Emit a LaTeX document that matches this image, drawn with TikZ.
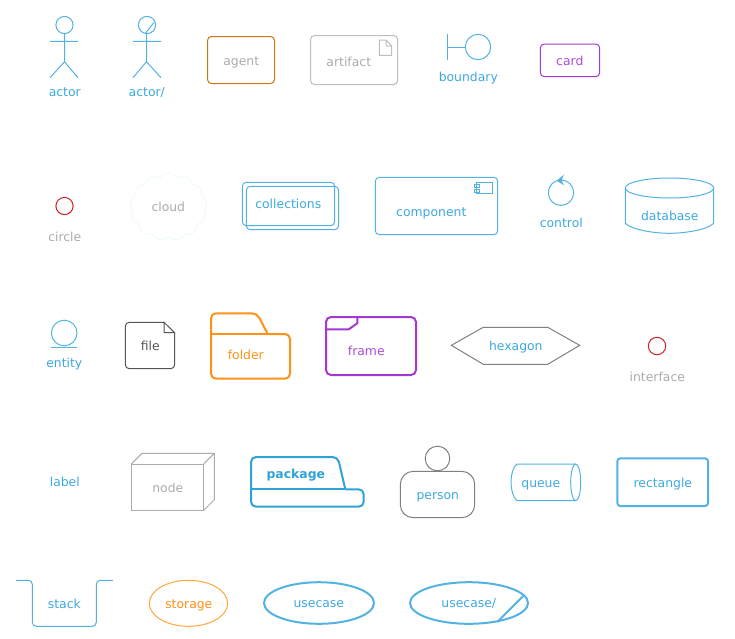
\documentclass[tikz,border=0pt]{standalone}
\usepackage{fontspec}
\setmainfont{DejaVu Sans}
\usetikzlibrary{shapes.symbols}
\definecolor{blu}{HTML}{52B2E2}
\definecolor{blutx}{HTML}{3CA9DE}
\definecolor{pkg}{HTML}{2FA2D8}
\definecolor{gry}{HTML}{ABABAB}
\definecolor{lgry}{HTML}{BEBEBE}
\definecolor{mgry}{HTML}{808080}
\definecolor{dgry}{HTML}{555555}
\definecolor{org}{HTML}{FF9018}
\definecolor{ora}{HTML}{FFA53C}
\definecolor{brn}{HTML}{CC7711}
\definecolor{pur}{HTML}{A338D2}
\definecolor{rd}{HTML}{D02020}
\definecolor{pale}{HTML}{F1FAFB}
\tikzset{
  lab/.style={inner sep=0pt,font=\fontsize{12.4}{15}\selectfont,text height=9.8pt,text depth=2.8pt,yshift=-0.8pt,xshift=0.3pt},
  tblue/.style={lab,text=blutx},
  tgray/.style={lab,text=gry},
  tpurple/.style={lab,text=pur!90!white},
  torange/.style={lab,text=org},
  tdark/.style={lab,text=dgry},
  thin line/.style={line width=1pt},
  blue line/.style={thin line,draw=blu},
  red line/.style={thin line,draw=rd},
  thick blue/.style={line width=2pt,draw=blu},
  rc/.style={rounded corners=4pt},
  rcb/.style={rounded corners=5pt}
}
\begin{document}
\begin{tikzpicture}[x=1pt,y=-1pt]
\path[use as bounding box] (0,0) rectangle (735,638);
% row 1
\draw[blue line] (64.5,25) circle (8.6);
\draw[blue line] (50,41.3) -- (78,41.3) (64.5,33.6) -- (64.5,61.7) (50,77.7) -- (64.5,61.7) -- (78,77.7);
\node[tblue] (actor) at (64.5,92.5) {actor};
\draw[blue line] (147,25) circle (8.6);
\draw[blue line] (133,41.3) -- (161,41.3) (146.5,33.6) -- (146.5,61.7) (133,77.7) -- (146.5,61.7) -- (161,77.7) (145.5,33.2) -- (154,22.5);
\node[tblue] (actorb) at (146.5,92.5) {actor/};
\draw[thin line,draw=brn,rc] (207.5,36.5) rectangle (274.5,83.5);
\node[tgray] (agent) at (241,61) {agent};
\draw[thin line,draw=lgry,rc] (310.5,35.5) rectangle (397.7,84.5);
\draw[thin line,draw=lgry] (379.3,40) -- (379.3,55.3) -- (391.7,55.3) -- (391.7,46) -- (386,40) -- cycle (386,40) -- (386,46) -- (391.7,46);
\node[tgray] (artifact) at (348.5,62.5) {artifact};
\draw[blue line] (478,47) circle (12.7);
\draw[blue line] (447.3,34) -- (447.3,60) (447.3,47.3) -- (465.3,47.3);
\node[tblue] (boundary) at (468,77.5) {boundary};
\draw[thin line,draw=pur,rc] (540.3,44) rectangle (599.7,76.7);
\node[tpurple] (card) at (569.5,61) {card};
% row 2
\draw[red line] (64.5,206) circle (8.6);
\node[tgray] (circlelab) at (64.5,237.5) {circle};
\node[cloud,cloud puffs=13,cloud puff arc=110,aspect=1.1,draw=pale,thin line,inner sep=0pt,minimum width=77pt,minimum height=67pt] (cloudshape) at (168.5,207) {};
\node[tgray] (cloud) at (168,207) {cloud};
\draw[blue line,rc] (246.3,186.3) rectangle (338.7,229.7);
\draw[blue line,rc] (242.3,182.3) rectangle (334.7,225.7);
\node[tblue] (collections) at (288,204.5) {collections};
\draw[blue line,rc] (375.3,177.3) rectangle (497.7,234.7);
\draw[blue line] (476,182.3) rectangle (492.7,193.7) (474.3,184) rectangle (479,187) (474.3,189) rectangle (479,192);
\node[tblue] (component) at (431,212) {component};
\draw[blue line] (561,192.7) circle (12.7);
\fill[blu] (564,174.7) -- (556.7,180.7) -- (564,185.3) -- (561.5,180.5) -- cycle;
\node[tblue] (control) at (561,223.5) {control};
\draw[blue line] (669.5,188) ellipse (44.2 and 10);
\draw[blue line] (625.3,188) -- (625.3,223.3) .. controls (632,230) and (655,233.3) .. (669.5,233.3) .. controls (684,233.3) and (707,230) .. (713.7,223.3) -- (713.7,188);
\node[tblue] (database) at (669.5,216.5) {database};
% row 3
\draw[blue line] (64.2,333) circle (12.8);
\draw[blue line] (51,347.3) -- (77,347.3);
\node[tblue] (entity) at (64,363.5) {entity};
\draw[thin line,draw=dgry,rc] (164,322.3) -- (125.3,322.3) -- (125.3,368.7) -- (174.7,368.7) -- (174.7,332.7);
\draw[thin line,draw=dgry] (174.7,334) -- (174.7,332.7) -- (164,322.3) -- (164,332.7) -- (174.7,332.7);
\node[tdark] (file) at (150,346) {file};
\draw[line width=2pt,draw=org,rcb] (267.7,334) -- (290,334) -- (290,378.7) -- (211,378.7) -- (211,313.3) -- (257,313.3) -- (267.7,334);
\draw[line width=2pt,draw=org] (211,334) -- (267.7,334);
\node[torange] (folder) at (245.5,355.5) {folder};
\draw[line width=2pt,draw=pur,rcb] (326,317) rectangle (416,375);
\draw[line width=2pt,draw=pur] (326,329.3) -- (348.7,329.3) -- (357.3,323.3) -- (357.3,317);
\node[tpurple] (frame) at (366,351.5) {frame};
\draw[thin line,draw=mgry] (451.3,345.3) -- (483.3,327.3) -- (547.7,327.3) -- (579.7,345.3) -- (547.7,364.3) -- (483.3,364.3) -- cycle;
\node[tblue] (hexagon) at (515.5,346.5) {hexagon};
\draw[red line] (657,346) circle (8.7);
\node[tgray] (interface) at (657,377) {interface};
% row 4
\node[tblue] (label) at (64.5,482.5) {label};
\draw[thin line,draw=gry] (131.3,464) rectangle (203.7,510.3);
\draw[thin line,draw=gry] (131.3,464) -- (142,453.3) -- (214.3,453.3) -- (214.3,499.7) -- (203.7,510.3) (203.7,464) -- (214.3,453.3);
\node[tgray] (node) at (167.5,488.5) {node};
\draw[line width=2pt,draw=pkg,rcb] (345.3,489.3) -- (363.7,489.3) -- (363.7,506.7) -- (251,506.7) -- (251,457) -- (337.8,457) -- (345.3,489.3);
\draw[line width=2pt,draw=pkg] (251,489.3) -- (345.3,489.3);
\node[lab,text=pkg,font=\fontsize{12.4}{15}\selectfont\bfseries] (package) at (295.5,474.5) {package};
\draw[thin line,draw=mgry] (437.5,458.5) circle (12.3);
\draw[thin line,draw=mgry,rounded corners=13pt,fill=white] (400.3,471.3) rectangle (474.7,517.7);
\node[tblue] (person) at (437.5,495.5) {person};
\draw[blue line] (575.7,464) -- (517,464) .. controls (509,470) and (509,494) .. (517,500.7) -- (575.7,500.7);
\draw[blue line] (575.7,482.35) ellipse (5 and 18.35);
\node[tblue] (queue) at (540.5,483.5) {queue};
\draw[thick blue,rounded corners=3pt] (617.3,458.3) rectangle (708,506);
\node[tblue] (rectangle) at (662.5,483.5) {rectangle};
% row 5
\draw[blue line,rc] (16,580.3) -- (32.3,580.3) -- (32.3,626.3) -- (96.3,626.3) -- (96.3,580.3) -- (113,580.3);
\node[tblue] (stack) at (64,604.5) {stack};
\draw[thin line,draw=ora] (188.5,603.3) ellipse (39.2 and 23);
\node[torange] (storage) at (188.5,604.5) {storage};
\draw[thick blue] (319,603) ellipse (55 and 20.8);
\node[tblue] (usecase) at (318.5,603) {usecase};
\draw[thick blue] (469,603) ellipse (59 and 20.8);
\draw[thick blue] (497.3,622) -- (524,595.3);
\node[tblue] (usecaseb) at (468.5,603) {usecase/};
\end{tikzpicture}
\end{document}
